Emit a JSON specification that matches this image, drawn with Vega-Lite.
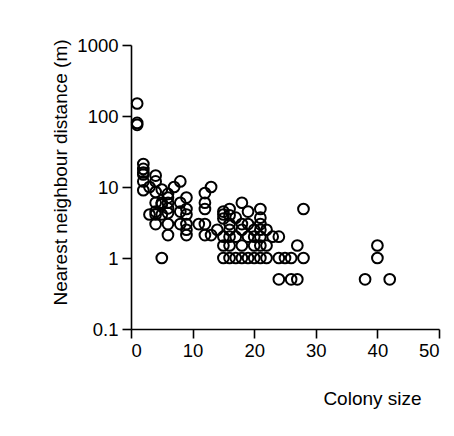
{
  "$schema": "https://vega.github.io/schema/vega-lite/v6.json",
  "width": 308,
  "height": 284,
  "autosize": "none",
  "padding": {"left": 131, "top": 45, "right": 15, "bottom": 107},
  "background": "white",
  "config": {
    "view": {"stroke": null},
    "font": "Liberation Sans",
    "axis": {
      "grid": false,
      "domainColor": "black",
      "domainWidth": 1.6,
      "tickColor": "black",
      "tickWidth": 1.6,
      "tickSize": 9,
      "labelColor": "black",
      "labelFont": "Liberation Sans",
      "labelFontSize": 18.5,
      "titleFont": "Liberation Sans",
      "titleFontSize": 19,
      "titleFontWeight": "normal",
      "titleColor": "black"
    }
  },
  "data": {
    "values": [
      {"size": 1, "dist": 150}, {"size": 1, "dist": 80}, {"size": 1, "dist": 75},
      {"size": 2, "dist": 21}, {"size": 2, "dist": 18}, {"size": 2, "dist": 16}, {"size": 2, "dist": 15}, {"size": 2, "dist": 12}, {"size": 2, "dist": 9},
      {"size": 3, "dist": 10}, {"size": 3, "dist": 4.1},
      {"size": 4, "dist": 14.5}, {"size": 4, "dist": 12}, {"size": 4, "dist": 8.5}, {"size": 4, "dist": 6}, {"size": 4, "dist": 4.5}, {"size": 4, "dist": 4.1}, {"size": 4, "dist": 3},
      {"size": 5, "dist": 9.2}, {"size": 5, "dist": 6}, {"size": 5, "dist": 5.7}, {"size": 5, "dist": 4.1}, {"size": 5, "dist": 1},
      {"size": 6, "dist": 8}, {"size": 6, "dist": 7.1}, {"size": 6, "dist": 6}, {"size": 6, "dist": 5}, {"size": 6, "dist": 4.3}, {"size": 6, "dist": 3}, {"size": 6, "dist": 2.1},
      {"size": 7, "dist": 10},
      {"size": 8, "dist": 12}, {"size": 8, "dist": 6}, {"size": 8, "dist": 4.5}, {"size": 8, "dist": 3},
      {"size": 9, "dist": 7.1}, {"size": 9, "dist": 4.9}, {"size": 9, "dist": 4.1}, {"size": 9, "dist": 3}, {"size": 9, "dist": 2.5}, {"size": 9, "dist": 2.1},
      {"size": 11, "dist": 3},
      {"size": 12, "dist": 8.2}, {"size": 12, "dist": 6}, {"size": 12, "dist": 4.9}, {"size": 12, "dist": 3}, {"size": 12, "dist": 2.1},
      {"size": 13, "dist": 10}, {"size": 13, "dist": 2.1},
      {"size": 14, "dist": 2.5},
      {"size": 15, "dist": 4.5}, {"size": 15, "dist": 4.1}, {"size": 15, "dist": 3.6}, {"size": 15, "dist": 2}, {"size": 15, "dist": 1.5}, {"size": 15, "dist": 1},
      {"size": 16, "dist": 4.9}, {"size": 16, "dist": 4}, {"size": 16, "dist": 3}, {"size": 16, "dist": 2.5}, {"size": 16, "dist": 2}, {"size": 16, "dist": 1.5}, {"size": 16, "dist": 1},
      {"size": 17, "dist": 3.7}, {"size": 17, "dist": 2}, {"size": 17, "dist": 1},
      {"size": 18, "dist": 6}, {"size": 18, "dist": 3}, {"size": 18, "dist": 2.5}, {"size": 18, "dist": 1.5}, {"size": 18, "dist": 1},
      {"size": 19, "dist": 4.5}, {"size": 19, "dist": 3}, {"size": 19, "dist": 2}, {"size": 19, "dist": 1},
      {"size": 20, "dist": 2.5}, {"size": 20, "dist": 2}, {"size": 20, "dist": 1.5}, {"size": 20, "dist": 1},
      {"size": 21, "dist": 4.9}, {"size": 21, "dist": 3.7}, {"size": 21, "dist": 3}, {"size": 21, "dist": 2.5}, {"size": 21, "dist": 2}, {"size": 21, "dist": 1.5}, {"size": 21, "dist": 1},
      {"size": 22, "dist": 2.5}, {"size": 22, "dist": 1.5}, {"size": 22, "dist": 1},
      {"size": 23, "dist": 2},
      {"size": 24, "dist": 2}, {"size": 24, "dist": 1}, {"size": 24, "dist": 0.5},
      {"size": 25, "dist": 1},
      {"size": 26, "dist": 1}, {"size": 26, "dist": 0.5},
      {"size": 27, "dist": 1.5}, {"size": 27, "dist": 0.5},
      {"size": 28, "dist": 4.9}, {"size": 28, "dist": 1},
      {"size": 38, "dist": 0.5},
      {"size": 40, "dist": 1.5}, {"size": 40, "dist": 1},
      {"size": 42, "dist": 0.5}
    ]
  },
  "mark": {"type": "point", "shape": "circle", "filled": false, "stroke": "black", "strokeWidth": 2, "size": 115, "opacity": 1},
  "encoding": {
    "x": {
      "field": "size", "type": "quantitative",
      "scale": {"domain": [0, 50], "nice": false, "zero": false},
      "axis": {
        "title": "Colony size",
        "values": [0, 10, 20, 30, 40, 50],
        "labelPadding": 3,
        "titleX": 241,
        "titleY": 69,
        "titleAlign": "center",
        "titleAnchor": null,
        "titleBaseline": "middle"
      }
    },
    "y": {
      "field": "dist", "type": "quantitative",
      "scale": {"type": "log", "domain": [0.1, 1000], "nice": false},
      "axis": {
        "title": "Nearest neighbour distance (m)",
        "values": [0.1, 1, 10, 100, 1000],
        "labelExpr": "format(datum.value, '~g')",
        "labelPadding": 4,
        "titleX": -71,
        "titleY": 127,
        "titleAngle": -90,
        "titleAlign": "center",
        "titleAnchor": null,
        "titleBaseline": "middle"
      }
    }
  }
}
